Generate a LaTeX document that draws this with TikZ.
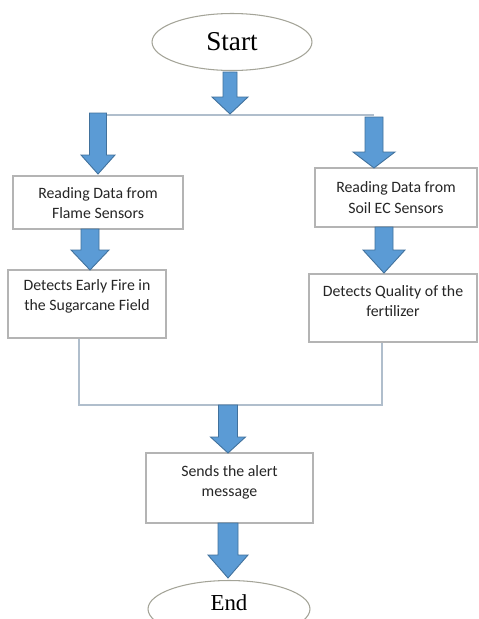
\documentclass[tikz,border=0pt]{standalone}
\usepackage{fontspec}
\setmainfont{Liberation Serif}
\newfontfamily\boxfont{Carlito}
\usetikzlibrary{shapes.geometric}
\definecolor{arrfill}{HTML}{5B9BD5}
\definecolor{arrdraw}{HTML}{41719C}
\definecolor{boxline}{HTML}{B4B4B4}
\definecolor{ellline}{HTML}{A4A498}
\definecolor{conline}{HTML}{B0BECC}
\definecolor{txtcol}{HTML}{262626}
\newcommand{\blockarrow}[6]{% cx, top, headstart, tip, shaft half, head half
  \filldraw[fill=arrfill,draw=arrdraw,line width=0.5pt,line join=miter]
    (#1-#5,#2) -- (#1+#5,#2) -- (#1+#5,#3) -- (#1+#6,#3) -- (#1,#4)
    -- (#1-#6,#3) -- (#1-#5,#3) -- cycle;}
\tikzset{
  term/.style={ellipse,draw=ellline,line width=0.6pt,inner sep=0pt},
  procbox/.style={rectangle,draw=boxline,line width=0.6pt,inner sep=0pt},
  boxtext/.style={align=center,text=txtcol,font=\boxfont\fontsize{9}{11.5}\selectfont,inner sep=0pt},
  conn/.style={draw=conline,line width=0.7pt}
}
\begin{document}
\begin{tikzpicture}[x=0.02cm,y=-0.02cm]
\useasboundingbox (0,0) rectangle (478,619);
\clip (0,0) rectangle (478,619);
\fill[white] (0,0) rectangle (478,619);
% terminals
\node[term,minimum width=3.2cm,minimum height=1.14cm,font=\fontsize{15.5}{17}\selectfont] (start) at (232,42) {Start};
\node[term,minimum width=3.24cm,minimum height=1.14cm] (end) at (229,609) {};
\node[inner sep=0pt,font=\fontsize{13}{15}\selectfont] (endtxt) at (229,603) {End};
% boxes
\node[procbox,minimum width=3.4cm,minimum height=1.06cm] (b1L) at (98,202.5) {};
\node[boxtext] (t1L) at (98,203) {Reading Data from\\Flame Sensors};
\node[procbox,minimum width=3.24cm,minimum height=1.18cm] (b1R) at (396,197.5) {};
\node[boxtext] (t1R) at (396,197.5) {Reading Data from\\Soil EC Sensors};
\node[procbox,minimum width=3.16cm,minimum height=1.36cm] (b2L) at (87,304) {};
\node[boxtext] (t2L) at (87,296) {Detects Early Fire in\\the Sugarcane Field};
\node[procbox,minimum width=3.36cm,minimum height=1.36cm] (b2R) at (393,308) {};
\node[boxtext] (t2R) at (393,301) {Detects Quality of the\\fertilizer};
\node[procbox,minimum width=3.34cm,minimum height=1.4cm] (b3) at (229.5,488) {};
\node[boxtext] (t3) at (229.5,482) {Sends the alert\\message};
% connector lines
\coordinate (splitL) at (97,115);
\coordinate (splitR) at (374,115);
\draw[conn] (splitL) -- (splitR);
\coordinate (joinL) at (79,405);
\coordinate (joinR) at (382,405);
\draw[conn] (b2L.south -| joinL) -- (joinL) -- (joinR) -- (b2R.south -| joinR);
% block arrows
\blockarrow{230}{72}{97}{114}{7}{18}
\blockarrow{98}{113}{155}{174}{8.5}{17}
\blockarrow{374}{117}{152}{168}{9}{21}
\blockarrow{90}{229}{250}{270}{9}{19}
\blockarrow{384}{227}{250}{273}{9}{21}
\blockarrow{228}{405}{437}{453}{9.5}{17.5}
\blockarrow{228}{523}{555}{578}{10}{20}
\end{tikzpicture}
\end{document}
